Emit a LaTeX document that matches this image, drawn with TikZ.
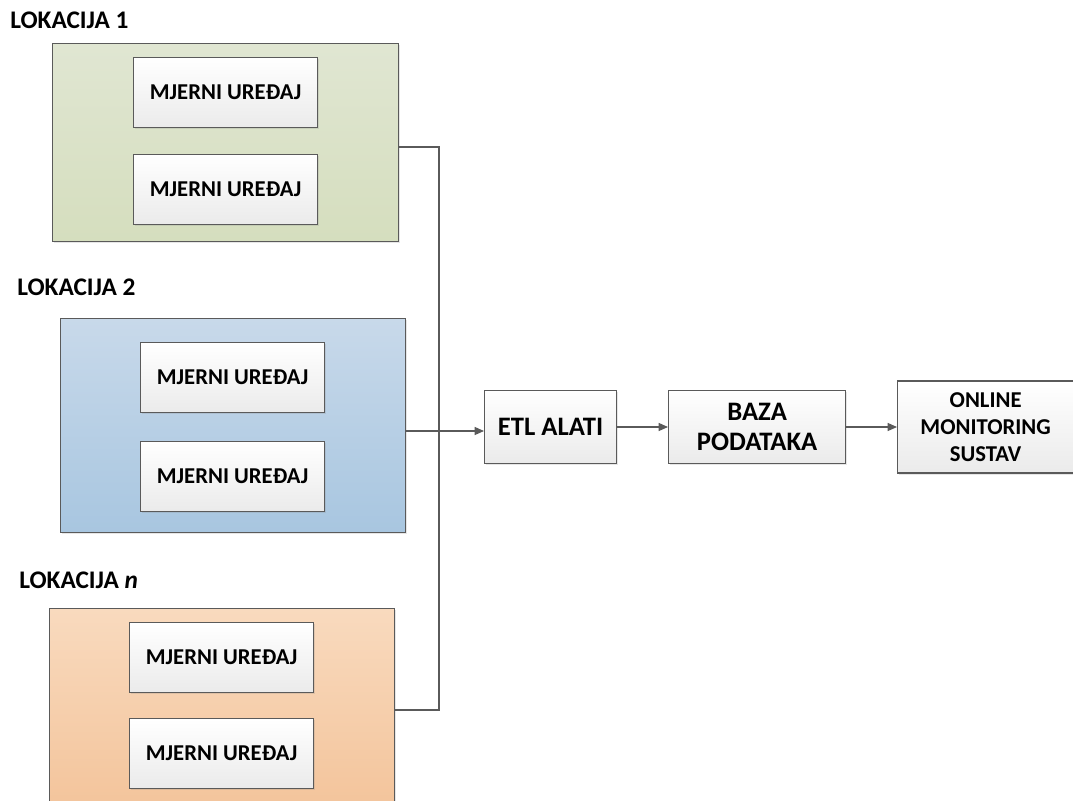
\documentclass[tikz,border=0pt]{standalone}
\usepackage{fontspec}
\setmainfont{Carlito}
\usetikzlibrary{arrows.meta,shadows}
\definecolor{greenT}{RGB}{224,230,210}
\definecolor{greenB}{RGB}{213,222,190}
\definecolor{blueT}{RGB}{200,217,234}
\definecolor{blueB}{RGB}{168,198,224}
\definecolor{orangeT}{RGB}{249,218,190}
\definecolor{orangeB}{RGB}{243,196,155}
\definecolor{edge}{RGB}{90,90,90}
\tikzset{
  lbl/.style={anchor=west, font=\fontsize{19}{22}\selectfont\bfseries, inner sep=0pt},
  shad/.style={drop shadow={opacity=0.2, shadow xshift=1.2pt, shadow yshift=-1.2pt}},
  locbox/.style={draw=edge, line width=0.9pt, anchor=north west, inner sep=0pt, shad},
  dev/.style={draw=edge, line width=0.9pt, top color=white, bottom color=black!8, anchor=north west, inner sep=0pt, font=\fontsize{17}{20}\selectfont\bfseries, align=center, shad},
  conn/.style={draw=edge, line width=0.9pt},
  arr/.style={conn, -{Triangle[length=7pt,width=6pt]}}
}
\begin{document}
\begin{tikzpicture}[x=0.75pt,y=-0.75pt]
\useasboundingbox (0,0) rectangle (1073,800);
% labels
\node[lbl] (l1) at (10,20) {LOKACIJA 1};
\node[lbl] (l2) at (17,287) {LOKACIJA 2};
\node[lbl] (ln) at (19,580) {LOKACIJA \textit{n}};
% location boxes
\node[locbox, top color=greenT, bottom color=greenB, minimum width=346*0.75pt, minimum height=198*0.75pt] (g) at (52,43) {};
\node[locbox, top color=blueT, bottom color=blueB, minimum width=345*0.75pt, minimum height=214*0.75pt] (b) at (60,318) {};
\node[locbox, top color=orangeT, bottom color=orangeB, minimum width=345*0.75pt, minimum height=200*0.75pt] (o) at (49,608) {};
% devices
\foreach \n/\x/\y in {g1/133/57, g2/133/154, b1/140/342, b2/140/441, o1/129/622, o2/129/718}{
  \node[dev, minimum width=184*0.75pt, minimum height=70*0.75pt] (\n) at (\x,\y) {MJERNI UREĐAJ};
}
% pipeline
\node[dev, anchor=west, minimum width=132*0.75pt, minimum height=73*0.75pt, font=\fontsize{20}{22}\selectfont\bfseries] (etl) at (484,427) {ETL ALATI};
\node[dev, anchor=west, minimum width=177*0.75pt, minimum height=73*0.75pt, font=\fontsize{20}{22.5}\selectfont\bfseries] (baza) at (668,427) {BAZA\\PODATAKA};
\node[dev, anchor=west, minimum width=176*0.75pt, minimum height=92*0.75pt, font=\fontsize{17}{20}\selectfont\bfseries] (online) at (897,427) {ONLINE\\MONITORING\\SUSTAV};
% connectors
\coordinate (j) at (439,431);
\draw[conn] ([yshift=-104*0.75pt]g.north east) -| (j);
\draw[conn] ([yshift=-102*0.75pt]o.north east) -| (j);
\draw[arr] (b.east |- j) -- (etl.west |- j);
\draw[arr] (etl.east) -- (baza.west);
\draw[arr] (baza.east) -- (online.west);
\end{tikzpicture}
\end{document}
